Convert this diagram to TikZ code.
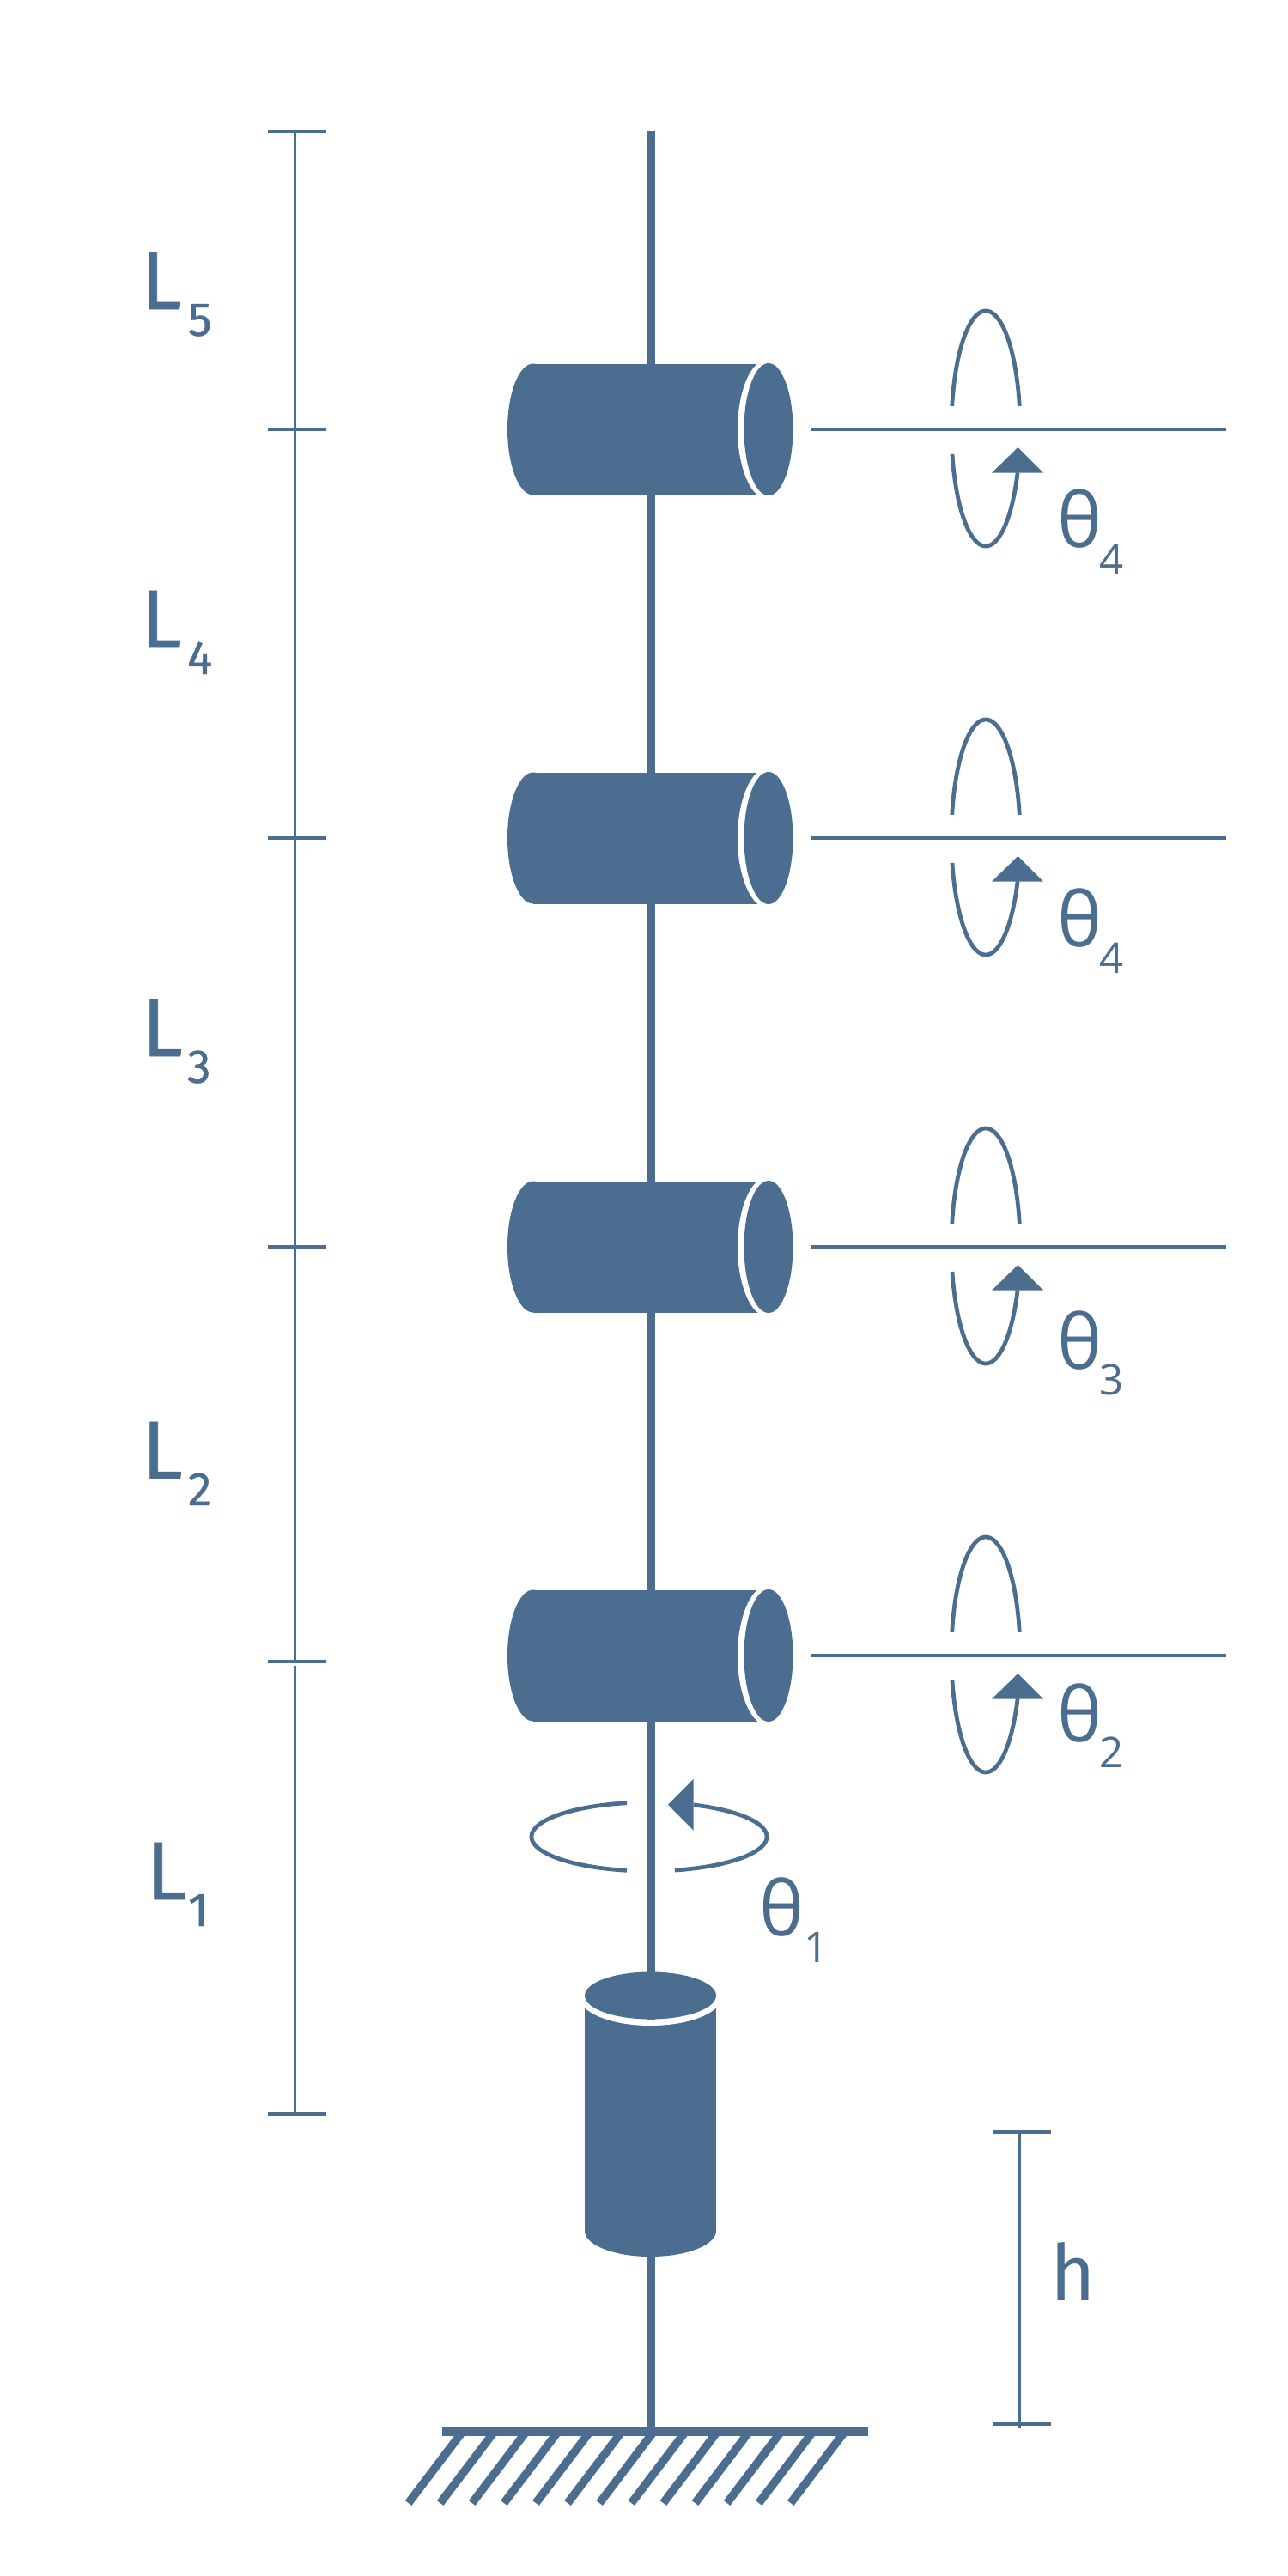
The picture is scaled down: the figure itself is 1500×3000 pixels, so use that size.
\documentclass[tikz,border=0pt]{standalone}
\usepackage{fontspec}
\setmainfont{Open Sans}
\newfontfamily\lfont[Numbers=Lining,FakeBold=0.6]{Fira Sans}
\newfontfamily\hfont[Numbers=Lining]{Fira Sans}
\definecolor{steel}{HTML}{4B6E90}
\tikzset{
  x=0.01cm,y=-0.01cm,
  rod/.style={draw=steel,line width=2.85pt},
  dimline/.style={draw=steel,line width=1pt},
  rotline/.style={draw=steel,line width=1.35pt},
  hatchline/.style={draw=steel,line width=2.7pt},
  solid fill/.style={fill=steel,draw=none},
  gap fill/.style={fill=white,draw=none},
  lab/.style={text=steel,inner sep=0pt,outer sep=0pt,anchor=base west},
  Lmain/.style={lab,font=\lfont\fontsize{27.3}{30}\selectfont},
  Lsub/.style={lab,font=\lfont\fontsize{15.7}{18}\selectfont},
  Hmain/.style={lab,font=\hfont\fontsize{25.5}{28}\selectfont},
  Tmain/.style={lab,font=\fontsize{25}{28}\selectfont},
  Tsub/.style={lab,font=\fontsize{14}{16}\selectfont},
}
\begin{document}
\begin{tikzpicture}
\useasboundingbox (0,0) rectangle (1500,3000);
\fill[white] (0,0) rectangle (1500,3000);

% main rod
\coordinate (rodtop) at (758,152);
\coordinate (rodbot) at (758,2830);
\coordinate (rodstub) at (758,2353);
\draw[rod] (rodtop) -- (rodbot);

% joints
\foreach \cy/\n in {500/a,976/b,1452/c,1928/d}{
  \path[solid fill] (621,\cy) ellipse [x radius=30,y radius=76.5];
  \path[solid fill] (621,\cy-76.5) rectangle (895,\cy+76.5);
  \path[gap fill] (895,\cy) ellipse [x radius=36,y radius=82];
  \path[solid fill] (895,\cy) ellipse [x radius=28.5,y radius=77];
  \coordinate (ax\n L) at (944,\cy);
  \coordinate (ax\n R) at (1428,\cy);
  \draw[dimline] (ax\n L) -- (ax\n R);
  \draw[rotline] plot[domain=-169:-11,samples=70,variable=\t] ({1148+40*cos(\t)},{\cy-1+137*sin(\t)});
  \draw[rotline] plot[domain=167.4:22,samples=70,variable=\t] ({1148+40*cos(\t)},{\cy-1+137*sin(\t)});
  \path[solid fill] (1185.5,\cy+21) -- (1215,\cy+50.7) -- (1155,\cy+50.7) -- cycle;
}

% base cylinder
\path[solid fill] (681,2340) rectangle (834,2598);
\path[solid fill] (757.5,2598) ellipse [x radius=76.5,y radius=30];
\path[solid fill] (757.5,2340) ellipse [x radius=76.5,y radius=20];
\path[gap fill] (757.5,2324) ellipse [x radius=84,y radius=35];
\path[solid fill] (757.5,2324) ellipse [x radius=76.5,y radius=27.5];
\draw[rod] (rodtop) -- (rodstub);

% theta 1 rotation
\draw[rotline] plot[domain=-100.9:-259.1,samples=90,variable=\t] ({756+137*cos(\t)},{2139+40*sin(\t)});
\draw[rotline] plot[domain=77.4:-67.8,samples=90,variable=\t] ({756+137*cos(\t)},{2139+40*sin(\t)});
\path[solid fill] (778,2101.7) -- (807.7,2071.7) -- (807.7,2131.7) -- cycle;

% ground
\foreach \k in {0,...,12}{
  \draw[hatchline] ({534.7+3.8+37.1*\k},2832) -- ({475.6+37.1*\k},2915);
}
\path[solid fill] (515,2827) rectangle (1011,2837);

% length dimension
\foreach \y/\n in {153/t5,500/t4,976/t3,1452/t2,1935/t1,2462/t0}{
  \coordinate (\n L) at (312,\y);
  \coordinate (\n R) at (380,\y);
  \draw[dimline] (\n L) -- (\n R);
}
\coordinate (dimA) at (343.5,153);
\coordinate (dimB) at (343.5,1935);
\coordinate (dimC) at (343.5,1940);
\coordinate (dimD) at (343.5,2462);
\draw[dimline] (dimA) -- (dimB);
\draw[dimline] (dimC) -- (dimD);

% h dimension
\coordinate (hL1) at (1156,2483);
\coordinate (hR1) at (1224,2483);
\coordinate (hL2) at (1156,2823);
\coordinate (hR2) at (1224,2823);
\coordinate (hA) at (1187,2483);
\coordinate (hB) at (1187,2828);
\draw[dimline] (hL1) -- (hR1);
\draw[dimline] (hL2) -- (hR2);
\draw[dimline] (hA) -- (hB);

% labels
\node[Lmain] (L5) at (164,360) {L};
\node[Lsub] (L5s) at (219,391) {5};
\node[Lmain] (L4) at (164,754) {L};
\node[Lsub] (L4s) at (218,785) {4};
\node[Lmain] (L3) at (165,1230) {L};
\node[Lsub] (L3s) at (218,1261) {3};
\node[Lmain] (L2) at (165,1722) {L};
\node[Lsub] (L2s) at (219,1753) {2};
\node[Lmain] (L1) at (170,2212) {L};
\node[Lsub] (L1s) at (219,2243) {1};
\node[Hmain] (hlab) at (1223,2678) {h};

\node[Tmain] (T4a) at (1231,637) {θ};
\node[Tsub] (T4as) at (1280,669) {4};
\node[Tmain] (T4b) at (1231,1102) {θ};
\node[Tsub] (T4bs) at (1280,1133) {4};
\node[Tmain] (T3) at (1231,1594) {θ};
\node[Tsub] (T3s) at (1280,1624) {3};
\node[Tmain] (T2) at (1231,2028) {θ};
\node[Tsub] (T2s) at (1280,2058) {2};
\node[Tmain] (T1) at (884,2254) {θ};
\node[Tsub] (T1s) at (936,2285) {1};
\end{tikzpicture}
\end{document}
